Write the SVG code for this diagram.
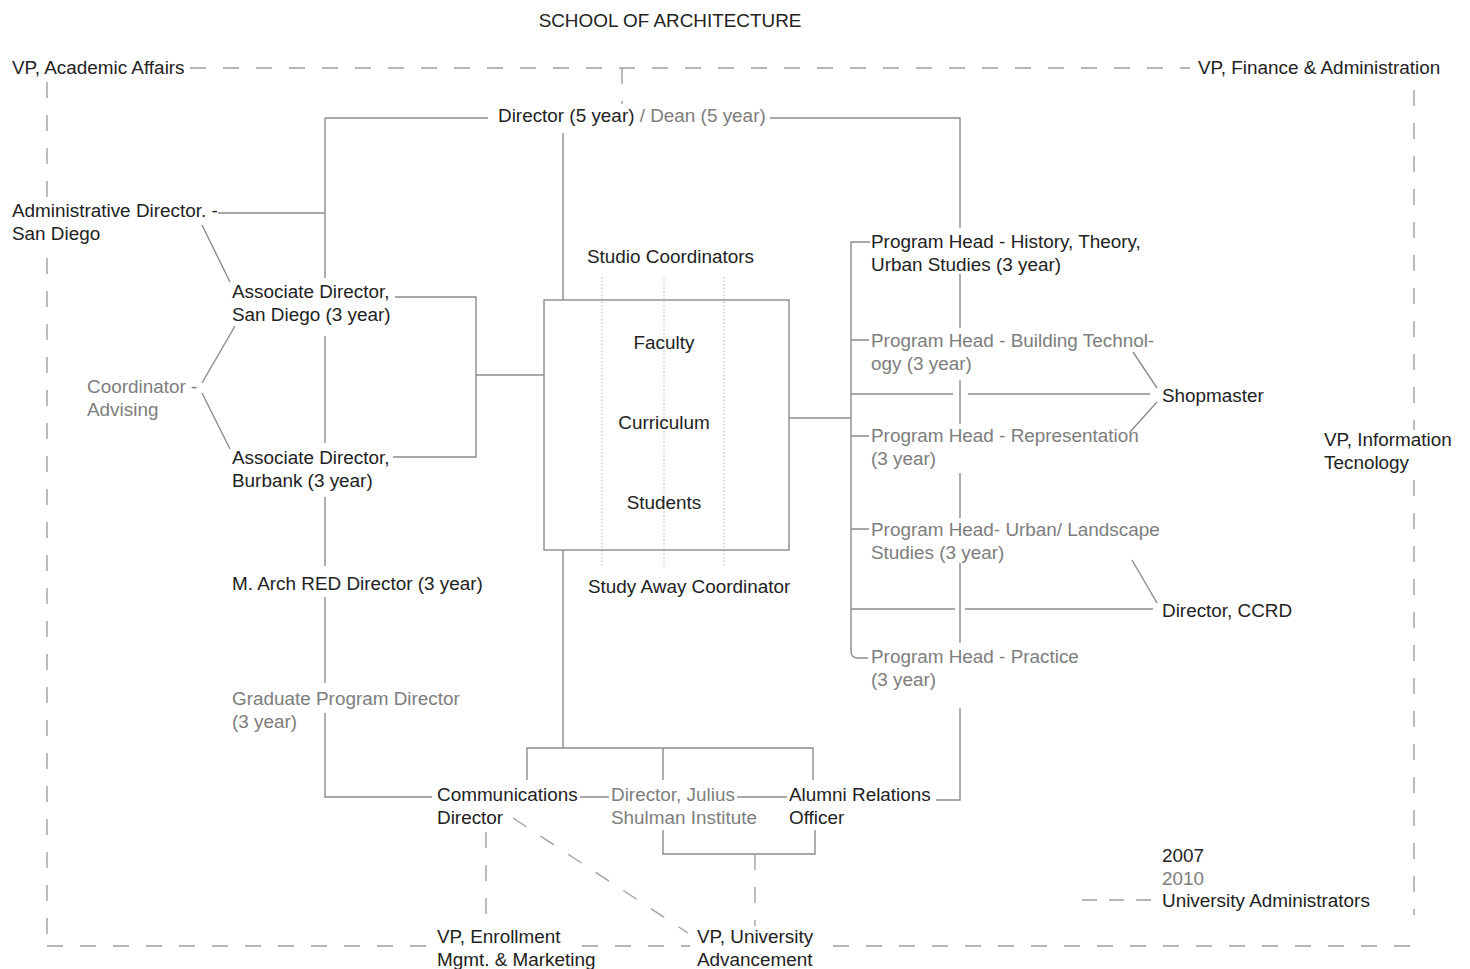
<svg xmlns="http://www.w3.org/2000/svg" width="1470" height="969" viewBox="0 0 1470 969">
<style>
text{font-family:"Liberation Sans",Arial,Helvetica,sans-serif;font-size:18.9px;fill:#222}
.g{fill:#7d7d7d}
.mid{text-anchor:middle}
.ln{fill:none;stroke:#8c8c8c;stroke-width:1.4}
.da{fill:none;stroke:#a0a0a0;stroke-width:1.4;stroke-dasharray:16 17}
.dt{fill:none;stroke:#c4c4c4;stroke-width:1.2;stroke-dasharray:1.5 2}
</style>
<rect width="1470" height="969" fill="#fff"/>
<g id="connectors">
<path class="ln" d="M325,118 H488 M325,118 V278 M218,213 H325 M325,336 V443 M325,497 V566 M325,597 V683 M325,713 V797 H432"/>
<path class="ln" d="M202,225 L230,282 M235,326 L202,383 M202,393 L230,449"/>
<path class="ln" d="M395,297 H476 V457 H393 M476,375 H544"/>
<path class="ln" d="M563,133 V300 M563,550 V748 M527,780 V748 H813 V780 M663,748 V780"/>
<path class="ln" d="M580,797 H609 M737,797 H787 M663,830 V854 H815 V830"/>
<path class="ln" d="M770,118 H960 V228 M960,274 V328 M960,380 V424 M960,473 V518 M960,563 V643 M960,708 V800 H936"/>
<path class="ln" d="M789,418 H851 M870,242 H851 V651 Q851,658 858,658 H868 M851,340 H869 M851,436 H869 M851,529 H869"/>
<path class="ln" d="M851,394 H953 M968,394 H1150 M1133,352 L1157,388 M1157,402 L1130,432"/>
<path class="ln" d="M851,609 H955 M965,609 H1153 M1132,560 L1157,603"/>
<path class="dt" d="M602,277 V567 M664,277 V567 M724,277 V567"/>
<path class="da" d="M190,68 H1190 M622,68 V104 M47,82 V197 M47,258 V945 M47,946 H427 M582,946 H690 M833,946 H1418 M1414,90 V430 M1414,480 V915"/>
<path class="da" d="M486,832 V922 M755,854 V926 M513,818 L688,933"/>
<path class="da" style="stroke-dasharray:15 12" d="M1082,900 H1152"/>
</g>
<g id="title"><text x="670" y="27" class="mid">SCHOOL OF ARCHITECTURE</text></g>
<g id="vp-academic"><text x="12" y="74">VP, Academic Affairs</text></g>
<g id="vp-finance"><text x="1198" y="74">VP, Finance &amp; Administration</text></g>
<g id="director"><text x="498" y="122">Director (5 year) <tspan class="g">/ Dean (5 year)</tspan></text></g>
<g id="admin-director"><text x="12" y="217">Administrative Director. -</text><text x="12" y="240">San Diego</text></g>
<g id="assoc-sd"><text x="232" y="298">Associate Director,</text><text x="232" y="321">San Diego (3 year)</text></g>
<g id="coordinator-advising"><text x="87" y="393" class="g">Coordinator -</text><text x="87" y="416" class="g">Advising</text></g>
<g id="assoc-burbank"><text x="232" y="464">Associate Director,</text><text x="232" y="487">Burbank (3 year)</text></g>
<g id="march-red"><text x="232" y="590">M. Arch RED Director (3 year)</text></g>
<g id="grad-director"><text x="232" y="705" class="g">Graduate Program Director</text><text x="232" y="728" class="g">(3 year)</text></g>
<g id="studio-coord"><text x="587" y="263">Studio Coordinators</text></g>
<g id="core"><rect x="544" y="300" width="245" height="250" fill="none" stroke="#8c8c8c" stroke-width="1.4"/><text x="664" y="349" class="mid">Faculty</text><text x="664" y="429" class="mid">Curriculum</text><text x="664" y="509" class="mid">Students</text></g>
<g id="study-away"><text x="588" y="593">Study Away Coordinator</text></g>
<g id="ph-history"><text x="871" y="248">Program Head - History, Theory,</text><text x="871" y="271">Urban Studies (3 year)</text></g>
<g id="ph-building"><text x="871" y="347" class="g">Program Head - Building Technol-</text><text x="871" y="370" class="g">ogy (3 year)</text></g>
<g id="ph-representation"><text x="871" y="442" class="g">Program Head - Representation</text><text x="871" y="465" class="g">(3 year)</text></g>
<g id="ph-urban"><text x="871" y="536" class="g">Program Head- Urban/ Landscape</text><text x="871" y="559" class="g">Studies (3 year)</text></g>
<g id="ph-practice"><text x="871" y="663" class="g">Program Head - Practice</text><text x="871" y="686" class="g">(3 year)</text></g>
<g id="shopmaster"><text x="1162" y="402">Shopmaster</text></g>
<g id="ccrd"><text x="1162" y="617">Director, CCRD</text></g>
<g id="vp-it"><text x="1324" y="446">VP, Information</text><text x="1324" y="469">Tecnology</text></g>
<g id="comm-director"><text x="437" y="801">Communications</text><text x="437" y="824">Director</text></g>
<g id="shulman"><text x="611" y="801" class="g">Director, Julius</text><text x="611" y="824" class="g">Shulman Institute</text></g>
<g id="alumni"><text x="789" y="801">Alumni Relations</text><text x="789" y="824">Officer</text></g>
<g id="vp-enrollment"><text x="437" y="943">VP, Enrollment</text><text x="437" y="966">Mgmt. &amp; Marketing</text></g>
<g id="vp-advancement"><text x="697" y="943">VP, University</text><text x="697" y="966">Advancement</text></g>
<g id="legend"><text x="1162" y="862">2007</text><text x="1162" y="885" class="g">2010</text><text x="1162" y="907">University Administrators</text></g>
</svg>
